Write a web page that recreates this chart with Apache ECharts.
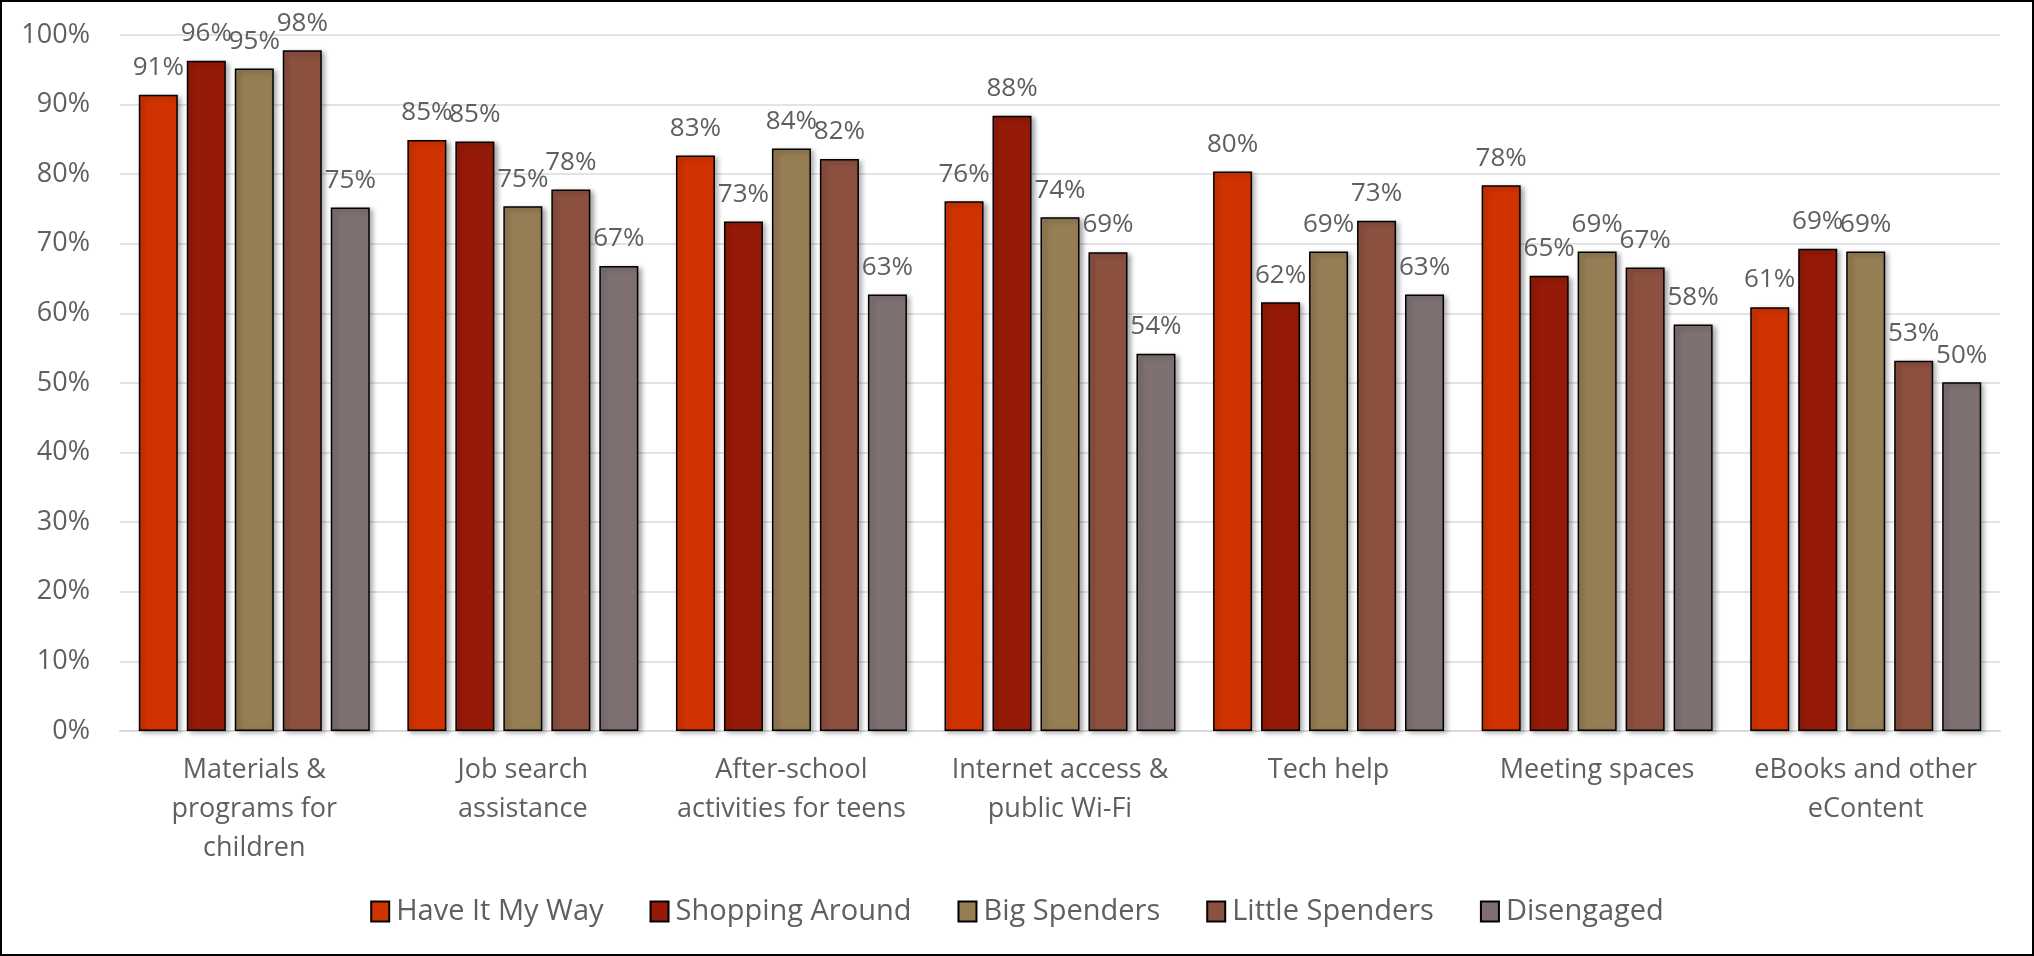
<!doctype html>
<html>
<head>
    <title>Library services by segment</title>
    <script src="https://cdn.jsdelivr.net/npm/echarts@6/dist/echarts.min.js"></script>
</head>
<style>
    html, body {
        margin: 0;
        padding: 0;
        background: #fff;
    }
    #chart {
        width: 2034px;
        height: 956px;
    }
</style>
<body>
<div id="chart"></div>
<script>
  var categories = [
    'Materials &\nprograms for\nchildren',
    'Job search\nassistance',
    'After-school\nactivities for teens',
    'Internet access &\npublic Wi-Fi',
    'Tech help',
    'Meeting spaces',
    'eBooks and other\neContent'
  ];
  var seriesNames = ['Have It My Way', 'Shopping Around', 'Big Spenders', 'Little Spenders', 'Disengaged'];
  var seriesColors = ['#D13300', '#961A08', '#957D54', '#8C503F', '#7F7171'];

  var haveItMyWay    = [91.4, 84.9, 82.7, 76.1, 80.4, 78.4, 60.9];
  var shoppingAround = [96.3, 84.7, 73.2, 88.4, 61.6, 65.4, 69.3];
  var bigSpenders    = [95.2, 75.4, 83.7, 73.8, 68.9, 68.9, 68.9];
  var littleSpenders = [97.8, 77.8, 82.2, 68.8, 73.3, 66.6, 53.2];
  var disengaged     = [75.2, 66.8, 62.7, 54.2, 62.7, 58.4, 50.1];
  var allValues = [haveItMyWay, shoppingAround, bigSpenders, littleSpenders, disengaged];

  var textColor = '#5F5F5F';
  var font = 'Open Sans';

  var chart = echarts.init(document.getElementById('chart'));

  var series = seriesNames.map(function (name, i) {
    return {
      name: name,
      type: 'bar',
      data: allValues[i],
      barGap: '23%',
      barCategoryGap: '14%',
      itemStyle: {
        color: seriesColors[i],
        borderColor: '#000',
        borderWidth: 1.5,
        shadowColor: 'rgba(0,0,0,0.35)',
        shadowBlur: 5,
        shadowOffsetX: 3,
        shadowOffsetY: 2
      },
      label: {
        show: true,
        position: 'top',
        distance: 6,
        color: textColor,
        fontFamily: font,
        fontSize: 26,
        formatter: function (p) { return Math.round(p.value) + '%'; }
      }
    };
  });

  chart.setOption({
    backgroundColor: '#fff',
    animation: false,
    graphic: [{
      type: 'rect',
      shape: { x: 1, y: 1, width: 2032, height: 954 },
      style: { fill: 'none', stroke: '#000', lineWidth: 2 },
      silent: true
    }],
    legend: {
      data: seriesNames,
      bottom: 16,
      left: 'center',
      itemWidth: 18,
      itemHeight: 20,
      itemGap: 46,
      icon: 'rect',
      itemStyle: { borderColor: '#000', borderWidth: 2 },
      textStyle: { color: textColor, fontFamily: font, fontSize: 29, padding: [0, 0, 0, 2] }
    },
    grid: { left: 120, right: 34, top: 35, bottom: 225 },
    xAxis: {
      type: 'category',
      data: categories,
      axisTick: { show: false },
      axisLine: { lineStyle: { color: '#D9D9D9', width: 2 } },
      axisLabel: {
        interval: 0,
        margin: 20,
        color: textColor,
        fontFamily: font,
        fontSize: 27,
        lineHeight: 39
      }
    },
    yAxis: {
      type: 'value',
      min: 0,
      max: 100,
      interval: 10,
      axisLine: { show: false },
      axisTick: { show: false },
      splitLine: { lineStyle: { color: '#E3E3E3', width: 2 } },
      axisLabel: {
        margin: 30,
        color: textColor,
        fontFamily: font,
        fontSize: 27,
        formatter: '{value}%'
      }
    },
    series: series
  });
</script>
</body>
</html>
